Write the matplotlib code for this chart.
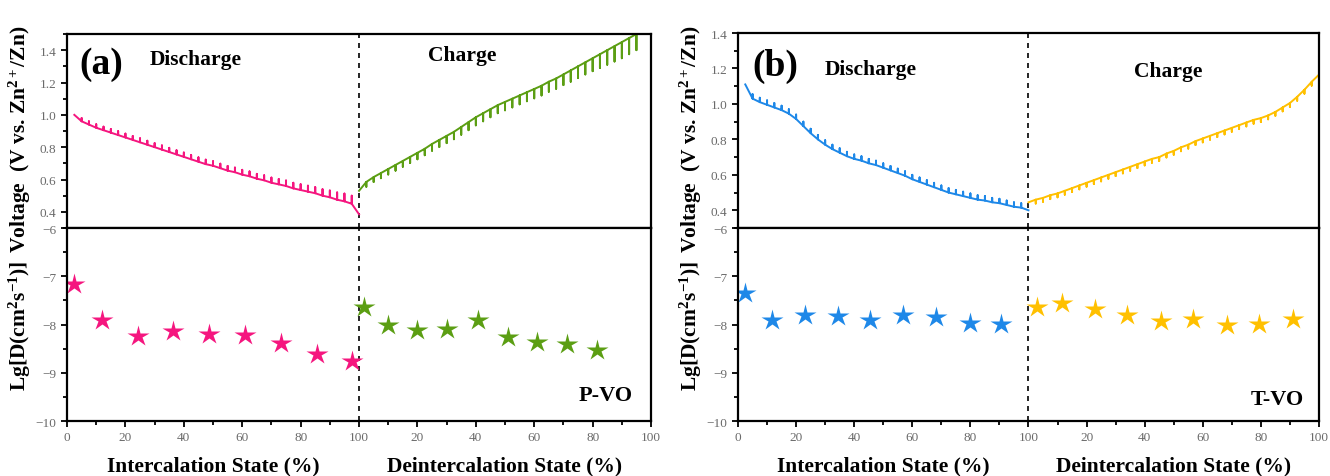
import matplotlib.pyplot as plt
from matplotlib.ticker import MultipleLocator, FuncFormatter

plt.rcParams['font.family'] = ['Liberation Serif', 'DejaVu Serif']
plt.rcParams['mathtext.fontset'] = 'custom'
plt.rcParams['mathtext.rm'] = 'Liberation Serif:bold'
plt.rcParams['mathtext.it'] = 'Liberation Serif:bold:italic'
plt.rcParams['mathtext.bf'] = 'Liberation Serif:bold'

# state positions of the GITT pulses (%)
dis_x = [2.5, 5, 7.5, 10, 12.5, 15, 17.5, 20, 22.5, 25, 27.5, 30, 32.5, 35, 37.5, 40,
         42.5, 45, 47.5, 50, 52.5, 55, 57.5, 60, 62.5, 65, 67.5, 70, 72.5, 75, 77.5, 80,
         82.5, 85, 87.5, 90, 92.5, 95, 97.5, 100]
chg_x = [100, 102.5, 105, 107.5, 110, 112.5, 115, 117.5, 120, 122.5, 125, 127.5, 130,
         132.5, 135, 137.5, 140, 142.5, 145, 147.5, 150, 152.5, 155, 157.5, 160, 162.5,
         165, 167.5, 170, 172.5, 175, 177.5, 180, 182.5, 185, 187.5, 190, 192.5, 195,
         197.5, 200]

# P-VO voltage (V) at pulse end and height of relaxation step
pvo_dis_v = [1.00, 0.96, 0.94, 0.92, 0.905, 0.89, 0.875, 0.86, 0.845, 0.83, 0.815, 0.80,
             0.785, 0.77, 0.755, 0.74, 0.725, 0.71, 0.695, 0.685, 0.67, 0.655, 0.645, 0.63,
             0.62, 0.605, 0.595, 0.58, 0.57, 0.56, 0.545, 0.535, 0.525, 0.515, 0.50, 0.49,
             0.475, 0.465, 0.45, 0.385]
pvo_dis_dv = [0, 0.02, 0.02, 0.022, 0.022, 0.022, 0.024, 0.024, 0.024, 0.025, 0.025, 0.025,
              0.026, 0.026, 0.026, 0.027, 0.027, 0.027, 0.028, 0.028, 0.028, 0.029, 0.029,
              0.03, 0.03, 0.03, 0.031, 0.032, 0.033, 0.034, 0.035, 0.036, 0.037, 0.038,
              0.04, 0.042, 0.045, 0.048, 0.05, 0]
pvo_chg_v = [0.53, 0.585, 0.615, 0.64, 0.665, 0.69, 0.715, 0.74, 0.765, 0.79, 0.82, 0.845,
             0.87, 0.895, 0.925, 0.955, 0.985, 1.01, 1.035, 1.06, 1.08, 1.10, 1.12, 1.14,
             1.16, 1.18, 1.205, 1.225, 1.25, 1.275, 1.30, 1.325, 1.35, 1.375, 1.40, 1.425,
             1.45, 1.475, 1.50]
pvo_chg_dv = [0, 0.03, 0.03, 0.032, 0.034, 0.035, 0.036, 0.038, 0.04, 0.04, 0.042, 0.044,
              0.045, 0.046, 0.048, 0.05, 0.05, 0.05, 0.05, 0.05, 0.052, 0.054, 0.055, 0.056,
              0.058, 0.06, 0.062, 0.064, 0.066, 0.07, 0.072, 0.075, 0.08, 0.085, 0.09,
              0.095, 0.1, 0.1, 0.1]

# T-VO voltage (V)
tvo_dis_v = [1.11, 1.03, 1.01, 0.995, 0.98, 0.965, 0.945, 0.915, 0.875, 0.835, 0.80, 0.77,
             0.745, 0.725, 0.705, 0.69, 0.68, 0.665, 0.655, 0.64, 0.625, 0.61, 0.595, 0.575,
             0.56, 0.545, 0.53, 0.515, 0.50, 0.49, 0.48, 0.47, 0.46, 0.455, 0.445, 0.44,
             0.43, 0.42, 0.415, 0.40]
tvo_dis_dv = [0] + [0.025] * 38 + [0]
tvo_chg_v = [0.445, 0.46, 0.47, 0.485, 0.495, 0.51, 0.525, 0.54, 0.555, 0.57, 0.585, 0.60,
             0.615, 0.63, 0.645, 0.66, 0.675, 0.69, 0.70, 0.72, 0.735, 0.755, 0.77, 0.79,
             0.805, 0.82, 0.835, 0.85, 0.865, 0.88, 0.895, 0.91, 0.92, 0.935, 0.955, 0.98,
             1.005, 1.04, 1.08, 1.125, 1.165]
tvo_chg_dv = [0] + [0.022] * 39 + [0]

# diffusion coefficients, lg D
pvo_dis_dx = [2.4, 12.1, 24.4, 36.4, 48.6, 61.0, 73.2, 85.5, 97.5]
pvo_dis_d = [-7.17, -7.91, -8.23, -8.14, -8.19, -8.21, -8.38, -8.62, -8.76]
pvo_chg_dx = [101.7, 110.0, 120.0, 130.2, 140.6, 150.9, 161.0, 171.1, 181.6]
pvo_chg_d = [-7.64, -8.01, -8.12, -8.10, -7.91, -8.25, -8.36, -8.40, -8.52]
tvo_dis_dx = [2.4, 11.8, 22.9, 34.3, 45.5, 56.8, 68.0, 79.7, 90.7]
tvo_dis_d = [-7.34, -7.90, -7.80, -7.83, -7.90, -7.80, -7.85, -7.96, -7.99]
tvo_chg_dx = [102.8, 111.6, 122.9, 134.0, 145.5, 156.7, 168.2, 179.4, 190.9]
tvo_chg_d = [-7.64, -7.56, -7.67, -7.81, -7.93, -7.88, -8.00, -7.98, -7.89]

pink, green, blue, yellow = '#F5167F', '#5B9E13', '#1E88E8', '#FFC000'
tick_col = '#6a6a6a'


def gitt_path(xs, vs, dvs, sign):
    # each pulse end gets a vertical relaxation step
    px, py = [], []
    for x, v, d in zip(xs, vs, dvs):
        px += [x, x, x]
        py += [v, v + sign * d, v]
    return px, py


def style(ax):
    for s in ax.spines.values():
        s.set_linewidth(1.6)
    ax.tick_params(which='both', direction='out', width=1.3, colors='black',
                   labelcolor=tick_col, labelsize=9.5, top=False, right=False)
    ax.tick_params(which='major', length=4)
    ax.tick_params(which='minor', length=3)
    ax.set_xlim(0, 200)
    ax.axvline(100, color='black', ls=(0, (3, 3)), lw=1.2)


def panel(left, width, top_h, vmax, dis, chg, dots, letter, name, dlab_y, clab_y, let_xy, name_xy):
    fig_top = fig.add_axes([left, 0.5199, width, top_h])
    fig_bot = fig.add_axes([left, 0.1153, width, 0.4046])
    for ax in (fig_top, fig_bot):
        style(ax)

    (xs, vs, dvs, c1), (xc, vc, dvc, c2) = dis, chg
    px, py = gitt_path(xs, vs, dvs, 1)
    fig_top.plot(px, py, color=c1, lw=1.4)
    px, py = gitt_path(xc[:len(vc)], vc, dvc, -1)
    fig_top.plot(px, py, color=c2, lw=1.4)
    fig_top.set_ylim(0.3, vmax)
    fig_top.yaxis.set_major_locator(MultipleLocator(0.2))
    fig_top.yaxis.set_minor_locator(MultipleLocator(0.1))
    fig_top.yaxis.set_major_formatter(FuncFormatter(lambda v, p: f'{v:.1f}' if v > 0.35 else ''))
    fig_top.tick_params(axis='x', which='both', bottom=False, labelbottom=False)
    fig_top.set_ylabel('Voltage  (V vs. Zn$^{2+}$/Zn)', fontsize=15.5, fontweight='bold')
    fig_top.yaxis.set_label_coords(-0.058, 0.46)

    for (dx, dy, c) in dots:
        fig_bot.plot(dx, dy, ls='none', marker='*', ms=16, color=c, mec='none')
    fig_bot.set_ylim(-10, -6)
    fig_bot.yaxis.set_major_locator(MultipleLocator(1))
    fig_bot.yaxis.set_minor_locator(MultipleLocator(0.5))
    fig_bot.xaxis.set_major_locator(MultipleLocator(20))
    fig_bot.xaxis.set_minor_locator(MultipleLocator(10))
    fig_bot.xaxis.set_major_formatter(FuncFormatter(lambda v, p: f'{int(v if v <= 100 else v - 100)}'))
    fig_bot.set_ylabel('Lg[D(cm$^2$s$^{-1}$)]', fontsize=15.5, fontweight='bold')
    fig_bot.yaxis.set_label_coords(-0.058, 0.5)

    fig_top.text(let_xy[0], let_xy[1], letter, transform=fig_top.transAxes, fontsize=27,
                 fontweight='bold', ha='center', va='center')
    fig_top.text(dlab_y[0], dlab_y[1], 'Discharge', transform=fig_top.transAxes,
                 fontsize=15.5, fontweight='bold', ha='center', va='center')
    fig_top.text(clab_y[0], clab_y[1], 'Charge', transform=fig_top.transAxes,
                 fontsize=15.5, fontweight='bold', ha='center', va='center')
    fig_bot.text(name_xy[0], name_xy[1], name, transform=fig_bot.transAxes,
                 fontsize=16, fontweight='bold', ha='center', va='center')
    fig_bot.text(0.25, -0.233, 'Intercalation State (%)', transform=fig_bot.transAxes,
                 fontsize=15.5, fontweight='bold', ha='center', va='center')
    fig_bot.text(0.75, -0.233, 'Deintercalation State (%)', transform=fig_bot.transAxes,
                 fontsize=15.5, fontweight='bold', ha='center', va='center')


fig = plt.figure(figsize=(13.3, 4.77), dpi=100)

panel(0.0504, 0.4391, 0.4067, 1.5,
      (dis_x, pvo_dis_v, pvo_dis_dv, pink), (chg_x, pvo_chg_v, pvo_chg_dv, green),
      [(pvo_dis_dx, pvo_dis_d, pink), (pvo_chg_dx, pvo_chg_d, green)],
      '(a)', 'P-VO', (0.221, 0.871), (0.676, 0.892), (0.058, 0.85), (0.923, 0.135))

panel(0.5549, 0.4368, 0.4088, 1.4,
      (dis_x, tvo_dis_v, tvo_dis_dv, blue), (chg_x, tvo_chg_v, tvo_chg_dv, yellow),
      [(tvo_dis_dx, tvo_dis_d, blue), (tvo_chg_dx, tvo_chg_d, yellow)],
      '(b)', 'T-VO', (0.229, 0.815), (0.740, 0.805), (0.064, 0.836), (0.929, 0.114))

fig.savefig('out.png', dpi=100)
